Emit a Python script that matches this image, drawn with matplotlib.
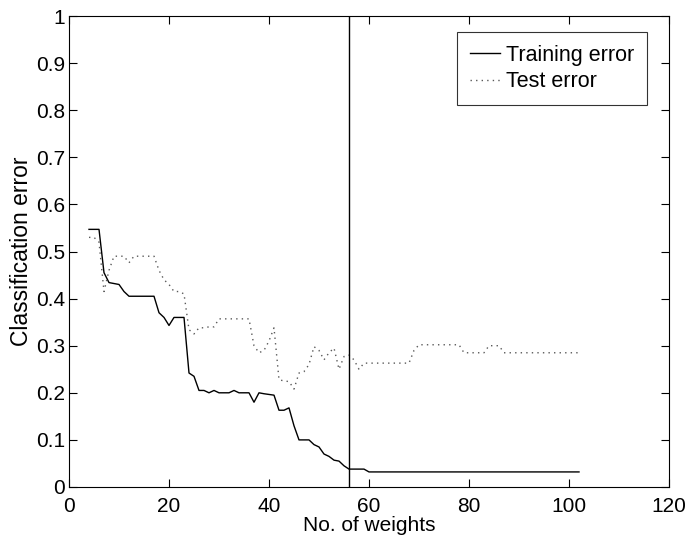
import matplotlib
matplotlib.use("Agg")
import matplotlib.pyplot as plt

plt.rcParams['font.family'] = ['Liberation Sans', 'DejaVu Sans']

train_x = [4, 6, 7, 8, 10, 11, 12, 17, 18, 19, 20, 21, 23, 24, 25, 26, 27, 28, 29, 30, 32, 33, 34, 36,
           37, 38, 39, 41, 42, 43, 44, 45, 46, 48, 49, 50, 51, 52, 53, 54, 55, 56, 59, 60, 102]
train_y = [0.547, 0.547, 0.455, 0.434, 0.43, 0.415, 0.405, 0.405, 0.37, 0.36, 0.343, 0.36, 0.36, 0.242,
           0.235, 0.205, 0.205, 0.2, 0.205, 0.2, 0.2, 0.205, 0.2, 0.2,
           0.18, 0.2, 0.198, 0.195, 0.163, 0.163, 0.168, 0.13, 0.1, 0.1, 0.09, 0.085, 0.07, 0.065, 0.057,
           0.055, 0.045, 0.038, 0.038, 0.032, 0.032]

test_x = [4, 5, 6, 7, 8, 9, 11, 12, 13, 17, 18, 19, 20, 21, 22, 23, 24, 25, 26, 27, 28, 29, 30, 36,
          37, 38, 39, 40, 41, 42, 43, 44, 45, 46, 47, 48, 49, 50, 51, 52, 53, 54, 55, 56, 57, 58, 59,
          68, 69, 70, 78, 79, 83, 84, 86, 87, 102]
test_y = [0.53, 0.53, 0.52, 0.415, 0.46, 0.49, 0.49, 0.476, 0.49, 0.49, 0.46, 0.44, 0.43, 0.415, 0.415,
          0.41, 0.334, 0.325, 0.338, 0.338, 0.34, 0.34, 0.357, 0.357,
          0.3, 0.285, 0.29, 0.31, 0.338, 0.228, 0.225, 0.224, 0.208, 0.242, 0.245, 0.26, 0.298, 0.29,
          0.27, 0.285, 0.295, 0.25, 0.277, 0.28, 0.27, 0.25, 0.263,
          0.263, 0.29, 0.302, 0.302, 0.285, 0.285, 0.3, 0.3, 0.285, 0.285]

vline_x = 56
x_ticks = [0, 20, 40, 60, 80, 100, 120]
y_ticks = [0, 0.1, 0.2, 0.3, 0.4, 0.5, 0.6, 0.7, 0.8, 0.9, 1]
y_tick_labels = ['0', '0.1', '0.2', '0.3', '0.4', '0.5', '0.6', '0.7', '0.8', '0.9', '1']

fig = plt.figure(figsize=(6.88, 5.39), dpi=100)
ax = fig.add_axes([69/688, 1-487/539, 600/688, 471/539])

ax.plot(train_x, train_y, color='black', lw=1.0, ls='-', label='Training error')
ax.plot(test_x, test_y, color='0.35', lw=1.0, ls=(0, (1, 3)), label='Test error')
ax.axvline(vline_x, color='black', lw=1.0)

ax.set_xlim(0, 120)
ax.set_ylim(0, 1)
ax.set_xticks(x_ticks)
ax.set_xticklabels([str(t) for t in x_ticks])
ax.set_yticks(y_ticks)
ax.set_yticklabels(y_tick_labels)
ax.tick_params(direction='in', top=True, right=True, length=6, width=0.8, labelsize=15)
ax.tick_params(axis='x', pad=7)
ax.tick_params(axis='y', pad=3)
for s in ax.spines.values():
    s.set_linewidth(0.8)

ax.set_xlabel('No. of weights', fontsize=15, labelpad=0)
ax.set_ylabel('Classification error', fontsize=16.5, labelpad=2)

leg = ax.legend(loc='upper right', bbox_to_anchor=(0.963, 0.966), fontsize=15.5, frameon=True,
                fancybox=False, edgecolor='black', handlelength=1.4, borderpad=0.6,
                labelspacing=0.25, handletextpad=0.25, borderaxespad=0)
leg.get_frame().set_linewidth(0.8)

fig.savefig('out.png', dpi=100)
